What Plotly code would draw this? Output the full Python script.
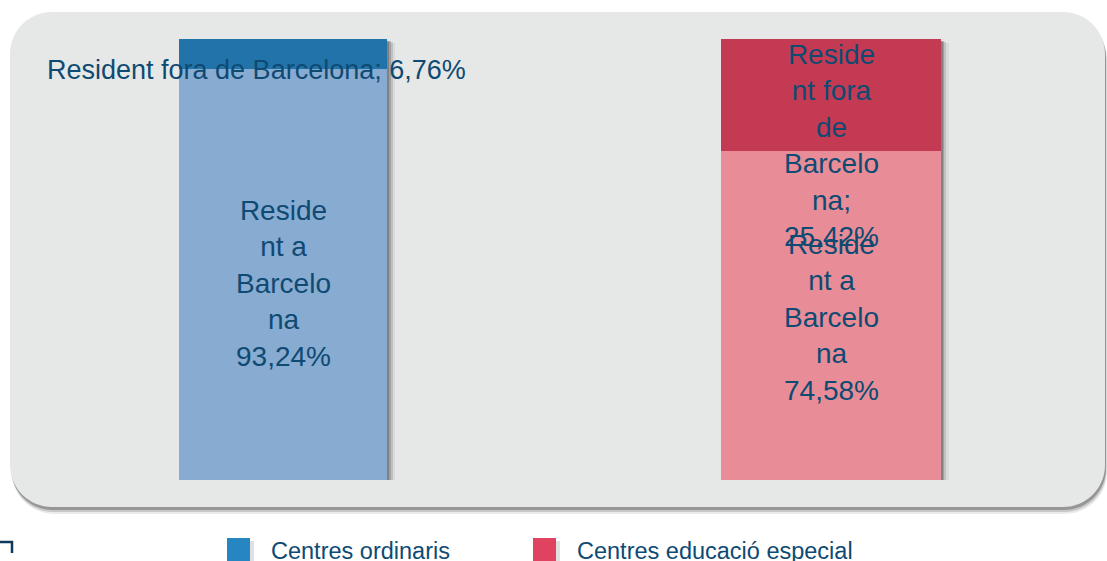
import plotly.graph_objects as go

# ---------------- data ----------------
categories = ["Centres ordinaris", "Centres educació especial"]
series_names = ["Resident a Barcelona", "Resident fora de Barcelona"]
resident_bcn = [93.24, 74.58]
resident_fora = [6.76, 25.42]

# wrapped label texts as shown in the chart
label_bcn = ["Reside<br>nt a<br>Barcelo<br>na<br>", "Reside<br>nt a<br>Barcelo<br>na<br>"]
label_fora = ["Resident fora de Barcelona; ", "Reside<br>nt fora<br>de<br>Barcelo<br>na;<br>"]

# ---------------- styles ----------------
W, H = 1107, 561
col_bcn = ["#88abd2", "#e88d97"]
col_fora = ["#2173aa", "#c43a52"]
legend_cols = ["#2686c1", "#e0435f"]
text_col = "#0e4a72"
panel_col = "#e6e8e8"
bar_w = [0.38, 0.40]
FONT = "Liberation Sans, Arial, sans-serif"


def X(px):
    return px / W


def Y(py):
    return 1 - py / H


def rrect(x0, y0, x1, y1, r):
    k = 0.5523 * r
    p = []
    p.append(f"M{X(x0 + r)},{Y(y0)}")
    p.append(f"L{X(x1 - r)},{Y(y0)}")
    p.append(f"C{X(x1 - r + k)},{Y(y0)} {X(x1)},{Y(y0 + r - k)} {X(x1)},{Y(y0 + r)}")
    p.append(f"L{X(x1)},{Y(y1 - r)}")
    p.append(f"C{X(x1)},{Y(y1 - r + k)} {X(x1 - r + k)},{Y(y1)} {X(x1 - r)},{Y(y1)}")
    p.append(f"L{X(x0 + r)},{Y(y1)}")
    p.append(f"C{X(x0 + r - k)},{Y(y1)} {X(x0)},{Y(y1 - r + k)} {X(x0)},{Y(y1 - r)}")
    p.append(f"L{X(x0)},{Y(y0 + r)}")
    p.append(f"C{X(x0)},{Y(y0 + r - k)} {X(x0 + r - k)},{Y(y0)} {X(x0 + r)},{Y(y0)}")
    p.append("Z")
    return " ".join(p)


fig = go.Figure()

totals = [a + b for a, b in zip(resident_bcn, resident_fora)]
unit_px = 548.0  # pixels per category unit
# bar shadows
for dx, dy, op in [(8, 4, 0.08), (5.5, 3, 0.16), (3.5, 2, 0.25), (2, 1.5, 0.3)]:
    fig.add_trace(go.Bar(
        x=categories, y=totals, base=[-dy * 100 / 441] * 2,
        width=bar_w, offset=[-w / 2 + dx / unit_px for w in bar_w],
        marker=dict(color=f"rgba(60,60,60,{op})", line=dict(width=0)),
        showlegend=False, hoverinfo="skip"))

fig.add_trace(go.Bar(
    x=categories, y=resident_bcn, base=[0, 0], width=bar_w,
    offset=[-w / 2 for w in bar_w],
    marker=dict(color=col_bcn, line=dict(width=0)),
    name=series_names[0], showlegend=False))
fig.add_trace(go.Bar(
    x=categories, y=resident_fora, base=resident_bcn, width=bar_w,
    offset=[-w / 2 for w in bar_w],
    marker=dict(color=col_fora, line=dict(width=0)),
    name=series_names[1], showlegend=False))


def fmt(v):
    return f"{v:.2f}".replace(".", ",") + "%"


annotations = []
# bottom segment labels
bcn_yshift = [-9, -2]
for i, c in enumerate(categories):
    annotations.append(dict(
        x=c, y=resident_bcn[i] / 2, xref="x", yref="y",
        text=label_bcn[i] + fmt(resident_bcn[i]), showarrow=False,
        yshift=bcn_yshift[i],
        font=dict(family=FONT, size=28, color=text_col), align="center"))
# top segment labels
fora_xshift = [-27, 0]
fora_yshift = [-1, 6]
fora_size = [27, 28]
for i, c in enumerate(categories):
    annotations.append(dict(
        x=c, y=resident_bcn[i], xref="x", yref="y",
        text=label_fora[i] + fmt(resident_fora[i]), showarrow=False,
        xshift=fora_xshift[i], yshift=fora_yshift[i],
        font=dict(family=FONT, size=fora_size[i], color=text_col), align="center"))

# legend (manual)
shapes = []
leg_sq_x = [227, 533]
leg_txt_x = [269, 575]
for i, c in enumerate(categories):
    x0 = leg_sq_x[i]
    # small shadow
    shapes.append(dict(type="rect", xref="paper", yref="paper",
                       x0=X(x0 + 23), x1=X(x0 + 27), y0=Y(563), y1=Y(541),
                       fillcolor="rgba(0,0,0,0.12)", line=dict(width=0), layer="above"))
    shapes.append(dict(type="rect", xref="paper", yref="paper",
                       x0=X(x0), x1=X(x0 + 23), y0=Y(563), y1=Y(538),
                       fillcolor=legend_cols[i], line=dict(width=0), layer="above"))
    annotations.append(dict(
        x=X(leg_txt_x[i]), y=Y(551), xref="paper", yref="paper",
        xanchor="left", yanchor="middle", text=c, showarrow=False,
        font=dict(family=FONT, size=23.5, color=text_col)))

# panel shadow + panel
panel = (10, 12, 1105, 507, 42)
layer_shapes = []
for dx, dy, op in [(2, 7, 0.08), (1.5, 5, 0.15), (1, 3, 0.25)]:
    layer_shapes.append(dict(type="path", xref="paper", yref="paper",
                             path=rrect(panel[0] + dx, panel[1] + dy, panel[2] + dx, panel[3] + dy, panel[4]),
                             fillcolor=f"rgba(0,0,0,{op})", line=dict(width=0), layer="below"))
layer_shapes.append(dict(type="path", xref="paper", yref="paper",
                         path=rrect(*panel), fillcolor=panel_col,
                         line=dict(width=0), layer="below"))

# corner mark bottom-left
shapes.append(dict(type="path", xref="paper", yref="paper",
                   path=f"M{X(0)},{Y(542)} L{X(12)},{Y(542)} L{X(12)},{Y(553)}",
                   line=dict(color="#0d3a5c", width=2.5), layer="above"))

fig.update_layout(
    width=W, height=H,
    margin=dict(l=0, r=0, t=0, b=0),
    paper_bgcolor="white", plot_bgcolor="rgba(0,0,0,0)",
    barmode="overlay", bargap=0,
    xaxis=dict(domain=[X(9), X(1105)], range=[-0.5, 1.5], type="category",
               visible=False, fixedrange=True),
    yaxis=dict(domain=[Y(480), Y(39)], range=[0, 100], visible=False,
               fixedrange=True),
    shapes=layer_shapes + shapes,
    annotations=annotations,
    showlegend=False,
)

fig.write_html(
    "out.html",
    config={"displayModeBar": False},
    post_script="document.body.style.margin='0';document.body.style.overflow='hidden';",
)
